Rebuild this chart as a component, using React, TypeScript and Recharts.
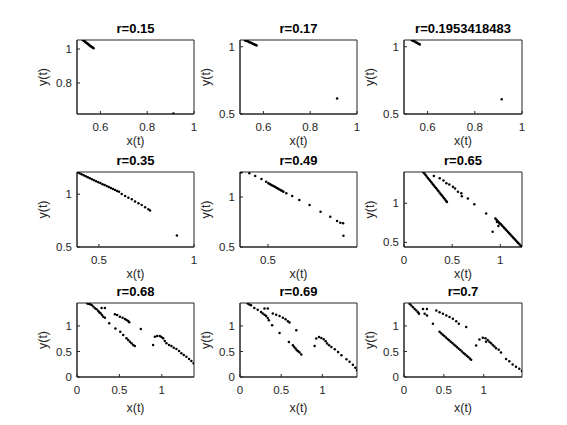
import React from "react";
import { Label, ReferenceArea, Scatter, ScatterChart, XAxis, YAxis } from "recharts";

type Pt = [number, number];

const titles = ["r=0.15", "r=0.17", "r=0.1953418483", "r=0.35", "r=0.49", "r=0.65", "r=0.68", "r=0.69", "r=0.7"];

const pts015: Pt[] = [
  [0.526, 1.052], [0.529, 1.049], [0.532, 1.046], [0.535, 1.042], [0.538, 1.039], [0.541, 1.036],
  [0.544, 1.032], [0.547, 1.029], [0.55, 1.026], [0.553, 1.022], [0.556, 1.019], [0.559, 1.016],
  [0.562, 1.013], [0.565, 1.01], [0.568, 1.007], [0.571, 1.004], [0.912, 0.62],
];

const pts017: Pt[] = [
  [0.521, 1.049], [0.524, 1.047], [0.527, 1.045], [0.53, 1.042], [0.533, 1.04], [0.537, 1.037],
  [0.54, 1.034], [0.544, 1.031], [0.548, 1.028], [0.552, 1.025], [0.556, 1.021], [0.56, 1.018],
  [0.564, 1.015], [0.568, 1.012], [0.571, 1.009], [0.915, 0.615],
];

const pts0195: Pt[] = [
  [0.532, 1.05], [0.535, 1.048], [0.538, 1.045], [0.541, 1.043], [0.544, 1.04], [0.548, 1.036],
  [0.552, 1.032], [0.556, 1.028], [0.56, 1.024], [0.564, 1.02], [0.567, 1.016], [0.914, 0.61],
];

const pts035: Pt[] = [
  [0.387, 1.207], [0.398, 1.198], [0.409, 1.188], [0.42, 1.179], [0.431, 1.17], [0.442, 1.16],
  [0.453, 1.151], [0.464, 1.142], [0.475, 1.132], [0.486, 1.123], [0.497, 1.114], [0.508, 1.105],
  [0.519, 1.095], [0.53, 1.086], [0.541, 1.077], [0.552, 1.067], [0.563, 1.058], [0.574, 1.049],
  [0.585, 1.039], [0.596, 1.03], [0.606, 1.022], [0.62, 1.002], [0.638, 0.983], [0.655, 0.967],
  [0.673, 0.952], [0.69, 0.93], [0.708, 0.914], [0.725, 0.898], [0.743, 0.876], [0.76, 0.857],
  [0.769, 0.845], [0.91, 0.61],
];

const pts049: Pt[] = [
  [0.349, 1.248], [0.356, 1.248], [0.398, 1.237], [0.43, 1.21], [0.464, 1.18], [0.49, 1.153],
  [0.502, 1.137], [0.509, 1.13], [0.516, 1.123], [0.523, 1.116], [0.53, 1.109], [0.537, 1.102],
  [0.544, 1.095], [0.551, 1.088], [0.558, 1.08], [0.565, 1.073], [0.572, 1.066], [0.578, 1.059],
  [0.584, 1.053], [0.6, 1.037], [0.632, 1.01], [0.671, 0.97], [0.727, 0.92], [0.787, 0.853],
  [0.84, 0.803], [0.877, 0.76], [0.895, 0.743], [0.91, 0.737], [0.912, 0.613],
];

const pts065: Pt[] = [
  [0.2, 1.398], [0.212, 1.38], [0.224, 1.361], [0.236, 1.343], [0.248, 1.324], [0.26, 1.305],
  [0.272, 1.287], [0.284, 1.268], [0.296, 1.25], [0.308, 1.231], [0.32, 1.212], [0.332, 1.194],
  [0.344, 1.175], [0.356, 1.157], [0.368, 1.138], [0.38, 1.119], [0.392, 1.101], [0.404, 1.082],
  [0.416, 1.064], [0.428, 1.045], [0.44, 1.026], [0.446, 1.017],
  [0.31, 1.35], [0.371, 1.32], [0.41, 1.29], [0.44, 1.255], [0.47, 1.24], [0.508, 1.21],
  [0.53, 1.19], [0.56, 1.148], [0.595, 1.127], [0.6, 1.09], [0.663, 1.06], [0.73, 0.986],
  [0.853, 0.87], [0.92, 0.635], [0.98, 0.71], [0.965, 0.76], [0.99, 0.74],
  [0.948, 0.806], [0.96, 0.79], [0.972, 0.774], [0.984, 0.758], [0.996, 0.743], [1.008, 0.727],
  [1.02, 0.711], [1.032, 0.695], [1.044, 0.679], [1.056, 0.663], [1.068, 0.647], [1.08, 0.631],
  [1.092, 0.615], [1.104, 0.599], [1.116, 0.583], [1.128, 0.567], [1.14, 0.551], [1.152, 0.536],
  [1.164, 0.52], [1.176, 0.504], [1.188, 0.488], [1.2, 0.472], [1.212, 0.456], [1.224, 0.44],
];

const pts068: Pt[] = [
  [0.122, 1.44], [0.137, 1.435], [0.153, 1.425], [0.173, 1.41], [0.192, 1.379], [0.212, 1.346],
  [0.231, 1.327], [0.251, 1.294], [0.263, 1.268], [0.278, 1.248], [0.294, 1.216], [0.31, 1.183],
  [0.329, 1.163], [0.29, 1.35], [0.329, 1.35],
  [0.447, 1.229], [0.474, 1.216], [0.506, 1.183], [0.537, 1.163], [0.565, 1.137], [0.584, 1.118],
  [0.604, 1.098], [0.616, 1.072], [0.753, 0.941],
  [0.38, 1.052], [0.453, 0.948], [0.51, 0.889], [0.545, 0.824], [0.584, 0.758], [0.604, 0.725],
  [0.624, 0.693], [0.643, 0.66], [0.663, 0.627], [0.682, 0.608],
  [0.898, 0.627], [0.918, 0.791], [0.945, 0.804], [0.976, 0.804], [0.996, 0.784], [1.016, 0.758],
  [1.035, 0.706], [1.055, 0.66], [1.086, 0.627], [1.114, 0.608], [1.141, 0.575], [1.173, 0.549],
  [1.204, 0.51], [1.231, 0.464], [1.259, 0.431], [1.29, 0.399], [1.322, 0.353], [1.349, 0.314],
  [1.376, 0.268],
];

const pts069: Pt[] = [
  [0.093, 1.439], [0.113, 1.419], [0.134, 1.406], [0.174, 1.354], [0.215, 1.32], [0.256, 1.275],
  [0.276, 1.242], [0.297, 1.222], [0.317, 1.196], [0.337, 1.157], [0.35, 1.111],
  [0.297, 1.34], [0.337, 1.34],
  [0.398, 1.242], [0.439, 1.222], [0.48, 1.196], [0.52, 1.163], [0.553, 1.131], [0.581, 1.092],
  [0.601, 1.066], [0.683, 0.916],
  [0.39, 1.013], [0.48, 0.863], [0.593, 0.687],
  [0.642, 0.622], [0.658, 0.589], [0.674, 0.556], [0.69, 0.524], [0.707, 0.504], [0.723, 0.478],
  [0.744, 0.439],
  [0.906, 0.609], [0.926, 0.752], [0.959, 0.785], [0.987, 0.765], [1.016, 0.739], [1.04, 0.7],
  [1.057, 0.654], [1.081, 0.622], [1.109, 0.589], [1.15, 0.543], [1.19, 0.491], [1.231, 0.426],
  [1.292, 0.347], [1.33, 0.3], [1.37, 0.24], [1.4, 0.18], [1.42, 0.13],
];

const pts07: Pt[] = [
  [0.071, 1.43], [0.092, 1.399], [0.113, 1.367], [0.134, 1.334], [0.155, 1.302], [0.175, 1.27],
  [0.188, 1.238], [0.238, 1.334], [0.288, 1.334], [0.259, 1.238], [0.288, 1.206],
  [0.405, 1.302], [0.446, 1.27], [0.488, 1.238], [0.53, 1.206], [0.571, 1.174], [0.613, 1.142],
  [0.655, 1.09], [0.688, 1.045], [0.78, 0.981], [0.363, 1.045],
  [0.446, 0.885], [0.466, 0.857], [0.486, 0.83], [0.506, 0.802], [0.526, 0.775], [0.546, 0.747],
  [0.566, 0.72], [0.586, 0.692], [0.606, 0.665], [0.626, 0.637], [0.646, 0.61], [0.666, 0.582],
  [0.686, 0.555], [0.706, 0.527], [0.726, 0.5], [0.746, 0.472], [0.766, 0.445], [0.786, 0.417],
  [0.806, 0.39], [0.826, 0.362], [0.842, 0.34],
  [0.905, 0.616], [0.946, 0.737], [0.988, 0.77], [1.021, 0.757], [1.029, 0.693], [1.05, 0.725],
  [1.071, 0.693], [1.092, 0.661], [1.113, 0.629], [1.134, 0.597], [1.155, 0.565], [1.188, 0.533],
  [1.217, 0.481], [1.28, 0.353], [1.321, 0.308], [1.363, 0.244], [1.404, 0.199], [1.446, 0.161],
  [1.479, 0.116],
];

const series: Pt[][] = [pts015, pts017, pts0195, pts035, pts049, pts065, pts068, pts069, pts07];

const xDomains: [number, number][] = [
  [0.5, 1], [0.5, 1], [0.5, 1], [0.385, 1], [0.347, 0.986], [0, 1.225], [0, 1.38], [0, 1.42], [0, 1.48],
];
const yDomains: [number, number][] = [
  [0.617, 1.053], [0.5, 1.05], [0.5, 1.05], [0.5, 1.21], [0.5, 1.25], [0.44, 1.4], [0, 1.45], [0, 1.45], [0, 1.45],
];
const xTicks = [[0.6, 0.8, 1], [0.6, 0.8, 1], [0.6, 0.8, 1], [0.5, 1], [0.5], [0, 0.5, 1], [0, 0.5, 1], [0, 0.5, 1], [0, 0.5, 1]];
const yTicks = [[0.8, 1], [0.5, 1], [0.5, 1], [0.5, 1], [0.5, 1], [0.5, 1], [0, 0.5, 1], [0, 0.5, 1], [0, 0.5, 1]];

// subplot boxes (pixels)
const colX = [77, 240, 404];
const colW = [117, 117, 118];
const rowY = [40, 172, 303];
const rowH = [74, 75, 74];
const xLabelOffset = [9, 9, 5];

const font = '"Liberation Sans", Arial, Helvetica, sans-serif';
const ink = "#262626";

const Dot = (props: any) => <circle cx={props.cx} cy={props.cy} r={1.25} fill="#000" />;

const Panel = ({ i }: { i: number }) => {
  const col = i % 3;
  const row = Math.floor(i / 3);
  const w = colW[col];
  const h = rowH[row];
  const padL = 40, padT = 22, padR = 10, padB = 40;
  const data = series[i].map(([x, y]) => ({ x, y }));
  const xd = xDomains[i];
  const yd = yDomains[i];
  return (
    <div style={{ position: "absolute", left: colX[col] - padL, top: rowY[row] - padT }}>
      <div
        style={{
          position: "absolute", left: padL - 20, width: w + 40, top: 4, lineHeight: "14px",
          textAlign: "center", fontWeight: "bold", fontSize: 13, fontFamily: font, color: "#000",
        }}
      >
        {titles[i]}
      </div>
      <ScatterChart width={w + padL + padR} height={h + padT + padB} margin={{ top: padT, right: padR, bottom: 0, left: 0 }}>
        <XAxis
          type="number" dataKey="x" domain={xd} ticks={xTicks[i]} interval={0} allowDataOverflow
          height={padB} tickSize={-3} tickMargin={12} stroke={ink}
          tick={{ fill: ink, fontSize: 11.5, fontFamily: font }}
        >
          <Label value="x(t)" position="insideBottom" offset={xLabelOffset[row]} fill={ink} fontSize={12.5} fontFamily={font} />
        </XAxis>
        <YAxis
          type="number" dataKey="y" domain={yd} ticks={yTicks[i]} interval={0} allowDataOverflow
          width={padL} tickSize={-3} tickMargin={8} stroke={ink}
          tick={{ fill: ink, fontSize: 11.5, fontFamily: font }}
        >
          <Label value="y(t)" angle={-90} position="insideLeft" offset={6} fill={ink} fontSize={12.5} fontFamily={font} style={{ textAnchor: "middle" }} />
        </YAxis>
        <ReferenceArea x1={xd[0]} x2={xd[1]} y1={yd[0]} y2={yd[1]} fill="none" stroke={ink} strokeOpacity={1} ifOverflow="visible" />
        <Scatter data={data} shape={Dot} isAnimationActive={false} />
      </ScatterChart>
    </div>
  );
};

export default function App() {
  return (
    <div style={{ position: "absolute", left: 0, top: 0, width: 567, height: 425, background: "#fff", overflow: "hidden" }}>
      {titles.map((_, i) => (
        <Panel key={i} i={i} />
      ))}
    </div>
  );
}
